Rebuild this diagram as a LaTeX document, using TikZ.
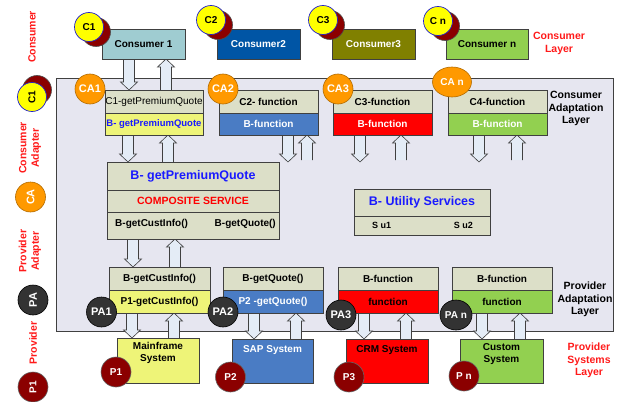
\documentclass[tikz,border=0pt]{standalone}
\usepackage{fontspec}
\setmainfont{Liberation Sans}
\usetikzlibrary{calc,shapes.geometric}
\pgfdeclarelayer{background}
\pgfsetlayers{background,main}

\definecolor{panelbg}{HTML}{E6E6F0}
\definecolor{edgegray}{HTML}{404040}
\definecolor{khaki}{HTML}{DCDFC8}
\definecolor{lyellow}{HTML}{EEF478}
\definecolor{tealc}{HTML}{9FCCD1}
\definecolor{navy}{HTML}{0055A5}
\definecolor{olivec}{HTML}{808000}
\definecolor{lgreen}{HTML}{92D050}
\definecolor{fnblue}{HTML}{4A7CC4}
\definecolor{redc}{HTML}{FF0000}
\definecolor{txtblue}{HTML}{1A1AFF}
\definecolor{lblred}{HTML}{FF1A1A}
\definecolor{orangec}{HTML}{FF9900}
\definecolor{darkc}{HTML}{333333}
\definecolor{maroon}{HTML}{8B0000}
\definecolor{yellowc}{HTML}{FFFF00}
\definecolor{ringblue}{HTML}{2222CC}
\definecolor{arrowfill}{HTML}{E4ECF6}

\newcommand\lbl{\fontsize{10}{12}\selectfont\bfseries}
\newcommand\biglbl{\fontsize{12.5}{14}\selectfont\bfseries}
\newcommand\layerlbl{\fontsize{10.5}{12.5}\selectfont\bfseries}

% hollow block arrow: x taken from the start point, y from start and end
\newcommand\flowarrow[2]{%
  \begin{pgfonlayer}{background}
  \draw[flowarr] let \p1=(#1), \p2=(#2), \n1={ifthenelse(\y2>\y1,1,-1)} in
    ({\x1-5.5pt},\y1) -- ({\x1-5.5pt},{\y2-\n1*8pt}) -- ({\x1-8.5pt},{\y2-\n1*8pt})
    -- (\x1,\y2) -- ({\x1+8.5pt},{\y2-\n1*8pt}) -- ({\x1+5.5pt},{\y2-\n1*8pt})
    -- ({\x1+5.5pt},\y1);
  \end{pgfonlayer}}

\begin{document}
\begin{tikzpicture}[x=1pt,y=-1pt,
  box/.style={draw=edgegray, line width=0.7pt, anchor=north west, inner sep=0pt,
    outer sep=0pt, font=\lbl},
  flowarr/.style={draw=black!75, line width=0.6pt, fill=arrowfill, line join=miter},
  ycirc/.style={circle, fill=yellowc, draw=ringblue, line width=0.7pt,
    minimum size=29, inner sep=0pt, font=\lbl},
  shcirc/.style={circle, fill=maroon, draw=black!70, line width=0.6pt,
    minimum size=29, inner sep=0pt},
  cacirc/.style={circle, fill=orangec, draw=orangec!70!black, line width=0.6pt,
    minimum size=30, inner sep=0pt, text=white, font=\fontsize{11}{12}\selectfont\bfseries},
  pacirc/.style={circle, fill=darkc, draw=black, line width=0.6pt,
    minimum size=30, inner sep=0pt, text=white, font=\fontsize{11}{12}\selectfont\bfseries},
  pcirc/.style={circle, fill=maroon, draw=black!60, line width=0.6pt,
    minimum size=30, inner sep=0pt, text=white, font=\lbl},
  redlbl/.style={text=lblred, font=\layerlbl, align=center, inner sep=0pt},
  blklbl/.style={text=black, font=\layerlbl, align=center, inner sep=0pt},
  txt/.style={inner sep=0pt, font=\lbl}]

\useasboundingbox (0,0) rectangle (617,401);

% adaptation panel
\begin{pgfonlayer}{background}
\draw[draw=edgegray, line width=0.7pt, fill=panelbg] (56,78) rectangle (613,331);
\end{pgfonlayer}

% consumers
\node[box, fill=tealc, minimum width=83, minimum height=30] (cons1) at (102,29) {Consumer 1};
\node[box, fill=navy, text=white, minimum width=83, minimum height=30] (cons2) at (217,29) {Consumer2};
\node[box, fill=olivec, text=white, minimum width=83, minimum height=30] (cons3) at (332,29) {Consumer3};
\node[box, fill=lgreen, minimum width=82, minimum height=30] (consn) at (446,29) {Consumer n};

\node[shcirc] (c1s) at (96,32) {};
\node[ycirc] (c1) at (89,27) {C1};
\node[shcirc] (c2s) at (218,25) {};
\node[ycirc] (c2) at (211,20) {C2};
\node[shcirc] (c3s) at (330,25) {};
\node[ycirc] (c3) at (323,20) {C3};
\node[shcirc] (cns) at (445,26) {};
\node[ycirc] (cn) at (438,21) {C n};

\node[redlbl] (conslayer) at (559,43.5) {Consumer\\Layer};

% consumer adapters
\node[box, fill=khaki, minimum width=98, minimum height=23,
  font=\fontsize{10}{12}\selectfont] (ad1t) at (105,90) {C1-getPremiumQuote};
\node[box, fill=lyellow, text=txtblue, minimum width=98, minimum height=22,
  font=\fontsize{9.5}{11}\selectfont\bfseries] (ad1b) at (105,113) {B- getPremiumQuote};
\node[box, fill=khaki, minimum width=99, minimum height=23] (ad2t) at (219,90) {C2- function};
\node[box, fill=fnblue, text=white, minimum width=99, minimum height=22] (ad2b) at (219,113) {B-function};
\node[box, fill=khaki, minimum width=99, minimum height=23] (ad3t) at (333,90) {C3-function};
\node[box, fill=redc, text=white, minimum width=99, minimum height=22] (ad3b) at (333,113) {B-function};
\node[box, fill=khaki, minimum width=99, minimum height=23] (ad4t) at (448,90) {C4-function};
\node[box, fill=lgreen, text=white, minimum width=99, minimum height=22] (ad4b) at (448,113) {B-function};

\node[cacirc] (ca1) at (90,89) {CA1};
\node[cacirc] (ca2) at (223,89) {CA2};
\node[cacirc] (ca3) at (338,89) {CA3};
\node[cacirc, ellipse, minimum width=39, minimum height=30, font=\lbl] (can) at (452,82) {CA n};

\node[blklbl] (calayer) at (576,108.5) {Consumer\\Adaptation\\Layer};

% composite service
\node[box, fill=khaki, minimum width=172, minimum height=28, text=txtblue, font=\biglbl]
  (compT) at (107,162) {B- getPremiumQuote};
\node[box, fill=khaki, minimum width=172, minimum height=22, text=redc,
  font=\fontsize{10.5}{12}\selectfont\bfseries] (compM) at (107,190) {COMPOSITE SERVICE};
\node[box, fill=khaki, minimum width=172, minimum height=27] (compB) at (107,212) {};
\node[txt, anchor=west] (ci) at ([xshift=8,yshift=1.5]compB.west) {B-getCustInfo()};
\node[txt, anchor=east] (gq) at ([xshift=-3,yshift=1.5]compB.east) {B-getQuote()};

% utility services
\node[box, fill=khaki, minimum width=136, minimum height=27, text=txtblue, font=\biglbl]
  (utT) at (354,189) {B- Utility Services};
\node[box, fill=khaki, minimum width=136, minimum height=19] (utB) at (354,216) {};
\node[txt, anchor=west, font=\fontsize{9}{11}\selectfont\bfseries] (su1) at ([xshift=18]utB.west) {S u1};
\node[txt, anchor=east, font=\fontsize{9}{11}\selectfont\bfseries] (su2) at ([xshift=-17]utB.east) {S u2};

% provider adapters
\node[box, fill=khaki, minimum width=101, minimum height=23] (pa1t) at (109,267) {B-getCustInfo()};
\node[box, fill=lyellow, minimum width=101, minimum height=23] (pa1b) at (109,290) {P1-getCustInfo()};
\node[box, fill=khaki, minimum width=100, minimum height=23] (pa2t) at (223,267) {B-getQuote()};
\node[box, fill=fnblue, text=white, minimum width=100, minimum height=23] (pa2b) at (223,290) {P2 -getQuote()};
\node[box, fill=khaki, minimum width=100, minimum height=23] (pa3t) at (338,267) {B-function};
\node[box, fill=redc, minimum width=100, minimum height=23] (pa3b) at (338,290) {function};
\node[box, fill=khaki, minimum width=100, minimum height=23] (pant) at (452,267) {B-function};
\node[box, fill=lgreen, minimum width=100, minimum height=23] (panb) at (452,290) {function};

\node[blklbl] (palayer) at (585,299.5) {Provider\\Adaptation\\Layer};

% provider systems
\node[box, fill=lyellow, minimum width=82, minimum height=45] (mf) at (117,338) {};
\node[txt, align=center, anchor=north, font=\fontsize{10}{12.5}\selectfont\bfseries] (mft) at ([yshift=-4]mf.north) {Mainframe\\System};
\node[box, fill=fnblue, minimum width=81, minimum height=44] (sap) at (232,339) {};
\node[txt, anchor=north, text=white] (sapt) at ([yshift=-6]sap.north) {SAP System};
\node[box, fill=redc, minimum width=82, minimum height=44] (crm) at (346,339) {};
\node[txt, anchor=north] (crmt) at ([yshift=-6]crm.north) {CRM System};
\node[box, fill=lgreen, minimum width=83, minimum height=44] (cust) at (460,339) {};
\node[txt, align=center, anchor=north, font=\fontsize{10}{12.5}\selectfont\bfseries] (custt) at ([yshift=-4]cust.north) {Custom\\System};

\node[pacirc] (pa1) at (101.5,312) {PA1};
\node[pacirc] (pa2) at (223,312) {PA2};
\node[pacirc] (pa3) at (341,315) {PA3};
\node[pacirc, ellipse, minimum width=32, minimum height=30, font=\lbl] (pan) at (456,315) {PA n};

\node[pcirc] (p1) at (116,372) {P1};
\node[pcirc] (p2) at (230.5,377) {P2};
\node[pcirc] (p3) at (349,377) {P3};
\node[pcirc] (pn) at (464,376) {P n};

\node[redlbl] (pslayer) at (589,360.5) {Provider\\Systems\\Layer};

% legend down the left side
\node[redlbl, rotate=90] (lgcons) at (32,37) {Consumer};
\node[shcirc] (lgcs) at (37,90) {};
\node[ycirc, rotate=90] (lgc) at (32,97) {C1};
\node[redlbl, rotate=90] (lgca) at (30,148) {Consumer\\Adapter};
\node[cacirc, rotate=90] (lgcac) at (30.5,197) {CA};
\node[redlbl, rotate=90] (lgpa) at (30,251) {Provider\\Adapter};
\node[pacirc, rotate=90] (lgpac) at (33,300) {PA};
\node[redlbl, rotate=90] (lgprov) at (33,343) {Provider};
\node[pcirc, rotate=90] (lgp) at (33,387) {P1};

% free ends of the arrows under the adapters
\coordinate (d2) at (288,162);
\coordinate (u2) at (307,160);
\coordinate (d3) at (360,162);
\coordinate (u3) at (401,160);
\coordinate (d4) at (479,162);
\coordinate (u4) at (517,160);

% request / response arrows
\flowarrow{[xshift=-14.5]cons1.south}{ad1t.north}
\flowarrow{[xshift=12]ad1t.north}{cons1.south}
\flowarrow{[xshift=-26]ad1b.south}{compT.north}
\flowarrow{[xshift=-25]compT.north}{ad1b.south}
\flowarrow{[xshift=19.5]ad2b.south}{d2}
\flowarrow{u2}{ad2b.south}
\flowarrow{[xshift=-22.5]ad3b.south}{d3}
\flowarrow{u3}{ad3b.south}
\flowarrow{[xshift=-18.5]ad4b.south}{d4}
\flowarrow{u4}{ad4b.south}
\flowarrow{[xshift=-60]compB.south}{pa1t.north}
\flowarrow{[xshift=15.5]pa1t.north}{compB.south}
\flowarrow{[xshift=-27.5]pa1b.south}{mf.north}
\flowarrow{[xshift=16]mf.north}{pa1b.south}
\flowarrow{[xshift=-19]pa2b.south}{sap.north}
\flowarrow{[xshift=23.5]sap.north}{pa2b.south}
\flowarrow{[xshift=-24]pa3b.south}{crm.north}
\flowarrow{[xshift=19]crm.north}{pa3b.south}
\flowarrow{[xshift=-20]panb.south}{cust.north}
\flowarrow{[xshift=18.5]cust.north}{panb.south}

\end{tikzpicture}
\end{document}
